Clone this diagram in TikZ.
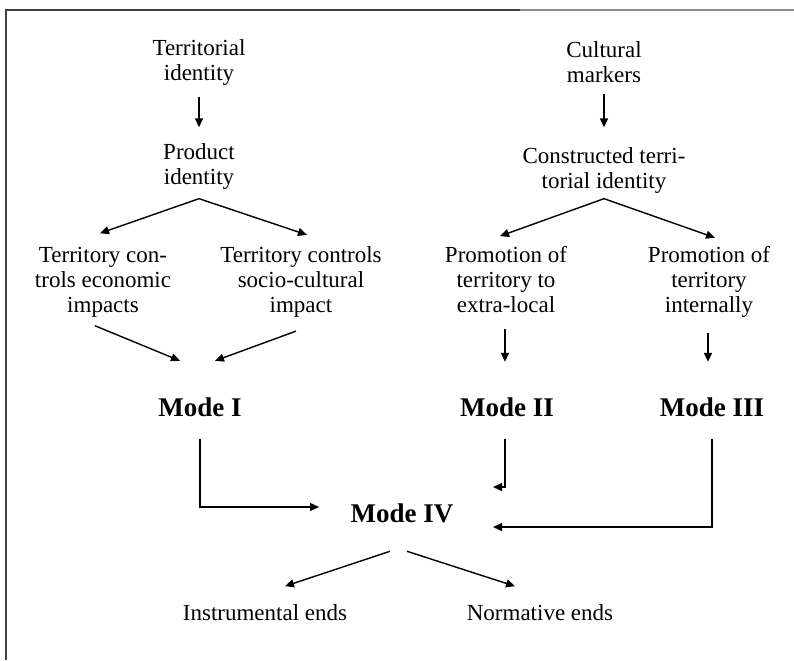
\documentclass[tikz,border=0pt]{standalone}
\usepackage{fontspec}
\setmainfont{Liberation Serif}
\usetikzlibrary{positioning, arrows.meta}

\begin{document}
\begin{tikzpicture}[x=0.5pt, y=-0.5pt, line width=0.7pt, >={Triangle[length=4.5pt, width=4pt]},
  txt/.style = {align=center, inner sep=0pt, font=\fontsize{11.5}{12.5}\selectfont},
  mode/.style = {inner sep=0pt, font=\fontsize{13.5}{15}\selectfont\bfseries}]
\useasboundingbox (0,0) rectangle (794,660);
\draw[line width=1pt, black!75] (6,660) -- (6,10) -- (520,10);
\draw[line width=1pt, black!45] (520,10) -- (794,10);

\node[txt] (terr) at (199,62) {Territorial\\identity};
\node[txt] (cult) at (604,62) {Cultural\\markers};
\node[txt] (prod) at (199,166) {Product\\identity};
\node[txt] (constr) at (604,170) {Constructed terri-\\torial identity};
\node[txt] (econ) at (103,282) {Territory con-\\trols economic\\impacts};
\node[txt] (socio) at (301,282) {Territory controls\\socio-cultural\\impact};
\node[txt] (promo1) at (506,280) {Promotion of\\territory to\\extra-local};
\node[txt] (promo2) at (709,282) {Promotion of\\territory\\internally};
\node[mode] (m1) at (200,407) {Mode I};
\node[mode] (m2) at (507,407) {Mode II};
\node[mode] (m3) at (712,407) {Mode III};
\node[mode] (m4) at (402,513) {Mode IV};
\node[txt] (inst) at (265,613) {Instrumental ends};
\node[txt] (norm) at (540,613) {Normative ends};
\coordinate (in1) at (319,507);
\coordinate (in2) at (493,487);
\coordinate (in3) at (493,527);

\draw[->, shorten <=5.5pt, shorten >=7.5pt] (terr) -- (prod);
\draw[->, shorten <=5.5pt, shorten >=9.5pt] (cult) -- (constr);
\draw[->] ([yshift=-4.5pt]prod.south) -- ([xshift=-1.5pt, yshift=6.5pt]econ.north);
\draw[->] ([yshift=-4.5pt]prod.south) -- ([xshift=3pt, yshift=5.5pt]socio.north);
\draw[->] ([yshift=-2.5pt]constr.south) -- ([xshift=-3pt, yshift=5pt]promo1.north);
\draw[->] ([yshift=-2.5pt]constr.south) -- ([xshift=3pt, yshift=4pt]promo2.north);
\draw[->] ([xshift=-4pt, yshift=-4pt]econ.south) -- ([xshift=-10pt, yshift=18pt]m1.north);
\draw[->] ([xshift=-2.5pt, yshift=-6.5pt]socio.south) -- ([xshift=7.5pt, yshift=18pt]m1.north);
\draw[->, shorten <=7.5pt, shorten >=17.5pt] ([xshift=-1pt]m2.north |- promo1.south) -- ([xshift=-1pt]m2.north);
\draw[->, shorten <=7.5pt, shorten >=17.5pt] ([xshift=-2pt]m3.north |- promo2.south) -- ([xshift=-2pt]m3.north);
\draw[->, shorten <=11pt] (m1.south) |- (in1);
\draw[->, shorten <=11pt] ([xshift=-1pt]m2.south) |- (in2);
\draw[->, shorten <=11pt] (m3.south) |- (in3);
\draw[->] ([xshift=-6pt, yshift=-14pt]m4.south) -- ([xshift=10pt, yshift=9pt]inst.north);
\draw[->] ([xshift=2.5pt, yshift=-14pt]m4.south) -- ([xshift=-12.5pt, yshift=9pt]norm.north);
\end{tikzpicture}
\end{document}
